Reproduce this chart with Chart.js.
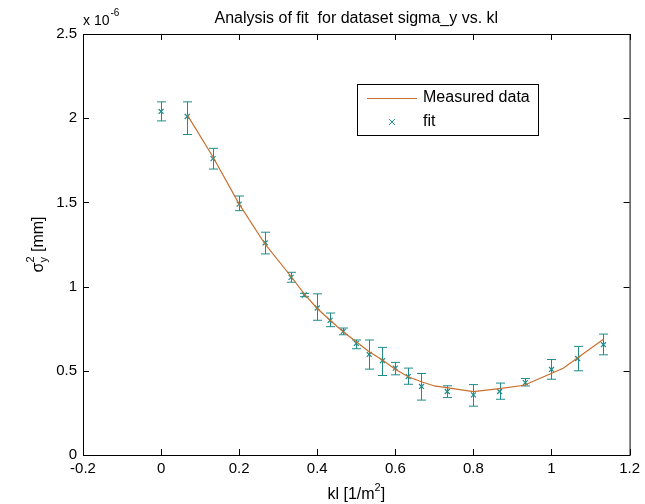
<!DOCTYPE html>
<html>
<head>
<meta charset="utf-8">
<script src="https://cdn.jsdelivr.net/npm/chart.js@4.4.1/dist/chart.umd.min.js"></script>
<style>
  body { margin: 0; background: #fff; }
  canvas { display: block; }
</style>
</head>
<body>
<canvas id="fitChart" width="645" height="504"></canvas>
<script>
// valores en unidades de 1e-6
const kl = [0, 0.067, 0.133, 0.2, 0.267, 0.333, 0.367, 0.4, 0.433, 0.467, 0.5, 0.533,
            0.567, 0.6, 0.633, 0.667, 0.733, 0.8, 0.867, 0.933, 1.0, 1.067, 1.133];
const sigma2 = [2.04, 2.01, 1.76, 1.49, 1.26, 1.055, 0.95, 0.873, 0.80, 0.734, 0.663, 0.597,
                0.56, 0.516, 0.466, 0.407, 0.377, 0.357, 0.377, 0.43, 0.508, 0.573, 0.655];
const errHigh = [2.097, 2.097, 1.821, 1.538, 1.323, 1.085, 0.96, 0.957, 0.843, 0.754, 0.683, 0.683,
                 0.639, 0.55, 0.516, 0.484, 0.411, 0.418, 0.427, 0.454, 0.567, 0.645, 0.718];
const errLow = [1.984, 1.903, 1.698, 1.451, 1.194, 1.026, 0.94, 0.80, 0.762, 0.714, 0.631, 0.51,
                0.472, 0.476, 0.42, 0.326, 0.341, 0.29, 0.331, 0.41, 0.45, 0.50, 0.595];

const lineKl = [0.067, 0.133, 0.2, 0.267, 0.333, 0.367, 0.4, 0.433, 0.467, 0.5, 0.533, 0.567,
                0.6, 0.633, 0.667, 0.7, 0.8, 0.867, 0.93, 1.03, 1.133];
const lineSigma2 = [2.02, 1.77, 1.49, 1.25, 1.06, 0.955, 0.87, 0.80, 0.73, 0.673, 0.613, 0.564,
                    0.509, 0.465, 0.435, 0.41, 0.376, 0.394, 0.414, 0.515, 0.687];

const xTicks = [-0.2, 0, 0.2, 0.4, 0.6, 0.8, 1.0, 1.2];
const xTickLabels = ['-0.2', '0', '0.2', '0.4', '0.6', '0.8', '1', '1.2'];
const yTicks = [0, 0.5, 1, 1.5, 2, 2.5];
const yTickLabels = ['0', '0.5', '1', '1.5', '2', '2.5'];

const ORANGE = '#c8702e';
const TEAL = '#1f8c8c';
const FONT = '"Liberation Sans", Arial, sans-serif';

function toPoints(xs, ys) {
    return xs.map((x, i) => ({ x: x, y: ys[i] }));
}

// barras de error, caja con marcas hacia dentro y textos tipo Matlab
const matlabAxes = {
    id: 'matlabAxes',
    beforeDatasetsDraw(chart) {
        const ctx = chart.ctx;
        const xs = chart.scales.x, ys = chart.scales.y;
        ctx.save();
        ctx.strokeStyle = TEAL;
        ctx.lineWidth = 1;
        kl.forEach((x, i) => {
            const px = Math.round(xs.getPixelForValue(x)) + 0.5;
            const top = ys.getPixelForValue(errHigh[i]);
            const bot = ys.getPixelForValue(errLow[i]);
            ctx.beginPath();
            ctx.moveTo(px, top); ctx.lineTo(px, bot);
            ctx.moveTo(px - 4.5, top); ctx.lineTo(px + 4.5, top);
            ctx.moveTo(px - 4.5, bot); ctx.lineTo(px + 4.5, bot);
            ctx.stroke();
        });
        ctx.restore();
    },
    afterDraw(chart) {
        const ctx = chart.ctx;
        const a = chart.chartArea;
        const xs = chart.scales.x, ys = chart.scales.y;
        ctx.save();
        ctx.strokeStyle = '#000';
        ctx.lineWidth = 1;
        ctx.strokeRect(a.left + 0.5, a.top + 0.5, a.right - a.left, a.bottom - a.top);
        ctx.beginPath();
        xTicks.forEach(v => {
            const p = Math.round(xs.getPixelForValue(v)) + 0.5;
            ctx.moveTo(p, a.bottom); ctx.lineTo(p, a.bottom - 6);
            ctx.moveTo(p, a.top); ctx.lineTo(p, a.top + 6);
        });
        yTicks.forEach(v => {
            const p = Math.round(ys.getPixelForValue(v)) + 0.5;
            ctx.moveTo(a.left, p); ctx.lineTo(a.left + 6, p);
            ctx.moveTo(a.right, p); ctx.lineTo(a.right - 6, p);
        });
        ctx.stroke();

        ctx.fillStyle = '#000';
        // titulo
        ctx.font = '16px ' + FONT;
        ctx.textAlign = 'center';
        ctx.textBaseline = 'alphabetic';
        ctx.fillText('Analysis of fit  for dataset sigma_y vs. kl', (a.left + a.right) / 2, 23);

        // factor de escala
        ctx.textAlign = 'left';
        ctx.font = '14px ' + FONT;
        ctx.fillText('x 10', a.left, 25);
        const w10 = ctx.measureText('x 10').width;
        ctx.font = '10px ' + FONT;
        ctx.fillText('-6', a.left + w10 + 1, 16);

        // etiqueta eje x
        const p1 = 'kl [1/m', p2 = '2', p3 = ']';
        ctx.font = '16px ' + FONT;
        const w1 = ctx.measureText(p1).width, w3 = ctx.measureText(p3).width;
        ctx.font = '11px ' + FONT;
        const w2 = ctx.measureText(p2).width;
        let x0 = (a.left + a.right) / 2 - (w1 + w2 + w3) / 2;
        ctx.font = '16px ' + FONT;
        ctx.fillText(p1, x0, 499);
        ctx.font = '11px ' + FONT;
        ctx.fillText(p2, x0 + w1, 491);
        ctx.font = '16px ' + FONT;
        ctx.fillText(p3, x0 + w1 + w2, 499);

        // etiqueta eje y
        ctx.translate(43, (a.top + a.bottom) / 2);
        ctx.rotate(-Math.PI / 2);
        ctx.font = '16px ' + FONT;
        const ws = ctx.measureText('σ').width;
        const wm = ctx.measureText(' [mm]').width;
        ctx.font = '11px ' + FONT;
        const wsub = Math.max(ctx.measureText('y').width, ctx.measureText('2').width);
        const start = -(ws + wsub + wm) / 2;
        ctx.font = '16px ' + FONT;
        ctx.fillText('σ', start, 0);
        ctx.font = '11px ' + FONT;
        ctx.fillText('2', start + ws, -9);
        ctx.fillText('y', start + ws, 4);
        ctx.font = '16px ' + FONT;
        ctx.fillText(' [mm]', start + ws + wsub, 0);
        ctx.restore();

        // leyenda
        ctx.save();
        const lx = 357, ly = 84, lw = 181, lh = 51;
        ctx.fillStyle = '#fff';
        ctx.fillRect(lx, ly, lw, lh);
        ctx.strokeStyle = '#000';
        ctx.lineWidth = 1;
        ctx.strokeRect(lx + 0.5, ly + 0.5, lw, lh);
        ctx.strokeStyle = ORANGE;
        ctx.beginPath();
        ctx.moveTo(367, 98.5); ctx.lineTo(417, 98.5);
        ctx.stroke();
        ctx.strokeStyle = TEAL;
        ctx.beginPath();
        ctx.moveTo(389, 119); ctx.lineTo(395, 125);
        ctx.moveTo(395, 119); ctx.lineTo(389, 125);
        ctx.stroke();
        ctx.fillStyle = '#000';
        ctx.font = '16px ' + FONT;
        ctx.textBaseline = 'middle';
        ctx.textAlign = 'left';
        ctx.fillText('Measured data', 423, 98);
        ctx.fillText('fit', 423, 122);
        ctx.restore();
    }
};

new Chart(document.getElementById('fitChart').getContext('2d'), {
    type: 'scatter',
    data: {
        datasets: [{
            type: 'line',
            label: 'Measured data',
            data: toPoints(lineKl, lineSigma2),
            borderColor: ORANGE,
            borderWidth: 1.2,
            pointRadius: 0,
            fill: false,
            tension: 0
        }, {
            label: 'fit',
            data: toPoints(kl, sigma2),
            pointStyle: 'crossRot',
            pointRadius: 3.5,
            borderColor: TEAL,
            backgroundColor: TEAL,
            borderWidth: 1.2
        }]
    },
    options: {
        responsive: false,
        animation: false,
        layout: { padding: { left: 0, top: 34, right: 14, bottom: 0 } },
        plugins: {
            legend: { display: false },
            title: { display: false },
            tooltip: { enabled: false }
        },
        scales: {
            x: {
                type: 'linear',
                min: -0.2,
                max: 1.2,
                afterBuildTicks: s => { s.ticks = xTicks.map(v => ({ value: v })); },
                afterFit: s => { s.height = 49; },
                grid: { display: false, drawTicks: false },
                border: { display: false },
                ticks: {
                    color: '#000',
                    font: { family: FONT, size: 15 },
                    padding: 5,
                    maxRotation: 0,
                    callback: (v, i) => xTickLabels[i]
                }
            },
            y: {
                type: 'linear',
                min: 0,
                max: 2.5,
                afterBuildTicks: s => { s.ticks = yTicks.map(v => ({ value: v })); },
                afterFit: s => { s.width = 83; },
                grid: { display: false, drawTicks: false },
                border: { display: false },
                ticks: {
                    color: '#000',
                    font: { family: FONT, size: 15 },
                    padding: 6,
                    callback: (v, i) => yTickLabels[i]
                }
            }
        }
    },
    plugins: [matlabAxes]
});
</script>
</body>
</html>
